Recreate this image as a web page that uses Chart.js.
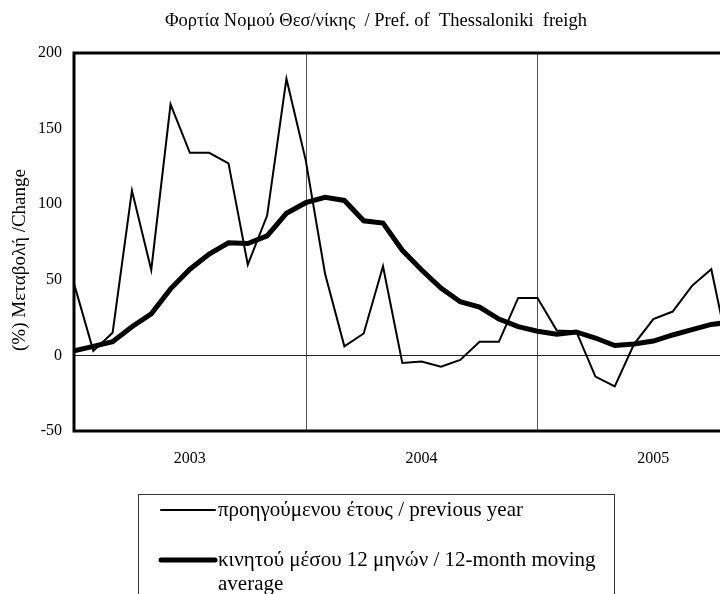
<!DOCTYPE html>
<html>
<head>
<meta charset="utf-8">
<title>Φορτία Νομού Θεσ/νίκης</title>
<script src="https://cdn.jsdelivr.net/npm/chart.js@4.4.1/dist/chart.umd.min.js"></script>
<style>
    html, body { margin: 0; padding: 0; background: #fff; }
</style>
</head>
<body>
<canvas id="freightChart" width="720" height="594"></canvas>
<script>
// Freight of Thessaloniki prefecture - % change, monthly from Jan 2003
// (the last month is cut off by the right edge of the picture)

const years = ['2003', '2004', '2005'];
const yTicks = [-50, 0, 50, 100, 150, 200];

// % change on previous year
const previousYear = [
    47.5, 3, 15, 109, 56.5, 166, 134, 134, 127, 60, 92.5, 183,
    129, 54, 6, 14.5, 59, -5, -4, -7.5, -3, 9, 9, 38,
    38, 16.5, 16, -14, -20.5, 7.5, 24, 29, 46, 57, -4
];

// 12-month moving average
const movingAverage = [
    3, 6, 9, 19, 27.5, 44, 57, 67, 74.5, 74, 79, 94,
    101, 104.5, 102.5, 89, 87.5, 69.5, 56.5, 44.5, 35.5, 32, 24, 19,
    16, 14, 15.5, 11.5, 6.5, 7.5, 9.5, 13.5, 17, 20.5, 22
];

const chartTitle = 'Φορτία Νομού Θεσ/νίκης  / Pref. of  Thessaloniki  freigh';
const yTitle = '(%) Μεταβολή /Change';
const seriesLabels = [
    'προηγούμενου έτους / previous year',
    'κινητού μέσου 12 μηνών / 12-month moving average'
];

const FONT = '"Liberation Serif", "Times New Roman", serif';

// Turn a plain list into {x, y} points, one per month
function toPoints(values) {
    return values.map((v, i) => ({ x: i, y: v }));
}

// Break a label into lines that fit maxWidth
function wrapText(ctx, text, maxWidth) {
    const words = text.split(' ');
    const lines = [];
    let line = '';
    words.forEach(w => {
        const test = line ? line + ' ' + w : w;
        if (line && ctx.measureText(test).width > maxWidth) {
            lines.push(line);
            line = w;
        } else {
            line = test;
        }
    });
    if (line) lines.push(line);
    return lines;
}

// Title, frame, year separators, zero line, axis title and the boxed legend
const framePlugin = {
    id: 'frame',
    beforeDatasetsDraw(chart) {
        const { ctx, chartArea: a, scales } = chart;
        ctx.save();
        ctx.lineWidth = 1;

        // year separators
        ctx.strokeStyle = '#555';
        for (let k = 1; k < years.length; k++) {
            const x = Math.round(scales.x.getPixelForValue(k * 12)) + 0.5;
            ctx.beginPath();
            ctx.moveTo(x, a.top);
            ctx.lineTo(x, a.bottom);
            ctx.stroke();
        }

        // zero line
        ctx.strokeStyle = '#222';
        const y0 = Math.round(scales.y.getPixelForValue(0)) + 0.5;
        ctx.beginPath();
        ctx.moveTo(a.left, y0);
        ctx.lineTo(a.right, y0);
        ctx.stroke();
        ctx.restore();
    },
    afterDatasetsDraw(chart) {
        const { ctx, chartArea: a } = chart;
        ctx.save();

        // thick plot frame (right side falls outside the picture)
        ctx.strokeStyle = '#000';
        ctx.lineWidth = 3;
        ctx.beginPath();
        ctx.moveTo(a.right + 2, a.top);
        ctx.lineTo(a.left, a.top);
        ctx.lineTo(a.left, a.bottom);
        ctx.lineTo(a.right + 2, a.bottom);
        ctx.stroke();

        // chart title (sits a little right of centre in the original)
        ctx.fillStyle = '#000';
        ctx.font = '18.5px ' + FONT;
        ctx.textAlign = 'center';
        ctx.textBaseline = 'middle';
        ctx.fillText(chartTitle, 376, 21);

        // y axis title
        ctx.font = '19px ' + FONT;
        ctx.translate(20, 260);
        ctx.rotate(-Math.PI / 2);
        ctx.fillText(yTitle, 0, 0);
        ctx.restore();

        // legend box
        ctx.save();
        const box = { left: 138, top: 494, right: 614 };
        ctx.strokeStyle = '#333';
        ctx.lineWidth = 1;
        ctx.strokeRect(box.left + 0.5, box.top + 0.5, box.right - box.left, 200);

        ctx.font = '21px ' + FONT;
        ctx.fillStyle = '#000';
        ctx.textAlign = 'left';
        ctx.textBaseline = 'middle';
        const rows = [510, 560];
        chart.data.datasets.forEach((ds, i) => {
            const y = rows[i];
            ctx.strokeStyle = ds.borderColor;
            ctx.lineWidth = ds.borderWidth;
            ctx.lineCap = 'round';
            ctx.beginPath();
            ctx.moveTo(161, y);
            ctx.lineTo(215, y);
            ctx.stroke();
            const lines = wrapText(ctx, ds.label, box.right - 218 - 8);
            lines.forEach((ln, j) => ctx.fillText(ln, 218, y + j * 24));
        });
        ctx.restore();
    }
};

const ctx = document.getElementById('freightChart').getContext('2d');
const chart = new Chart(ctx, {
    type: 'line',
    data: {
        datasets: [
            {
                label: seriesLabels[0],
                data: toPoints(previousYear),
                borderColor: '#000',
                borderWidth: 2,
                pointRadius: 0,
                tension: 0
            },
            {
                label: seriesLabels[1],
                data: toPoints(movingAverage),
                borderColor: '#000',
                borderWidth: 5,
                pointRadius: 0,
                tension: 0
            }
        ]
    },
    options: {
        responsive: false,
        animation: false,
        layout: { padding: { top: 53 } },
        plugins: {
            legend: { display: false },
            tooltip: { enabled: false },
            title: { display: false }
        },
        scales: {
            x: {
                type: 'linear',
                min: 0,
                max: 33.45,
                grid: { display: false },
                border: { display: false },
                afterBuildTicks: (s) => { s.ticks = years.map((y, i) => ({ value: i * 12 + 6 })); },
                ticks: {
                    callback: (v) => years[Math.round((v - 6) / 12)],
                    color: '#000',
                    font: { family: FONT, size: 16 },
                    padding: 10,
                    maxRotation: 0,
                    autoSkip: false
                },
                afterFit: (s) => { s.height = 163; }
            },
            y: {
                min: -50,
                max: 200,
                grid: { display: false },
                border: { display: false },
                afterBuildTicks: (s) => { s.ticks = yTicks.map(v => ({ value: v })); },
                ticks: {
                    color: '#000',
                    font: { family: FONT, size: 16 },
                    padding: 4
                },
                afterFit: (s) => { s.width = 74; }
            }
        }
    },
    plugins: [framePlugin]
});
</script>
</body>
</html>
